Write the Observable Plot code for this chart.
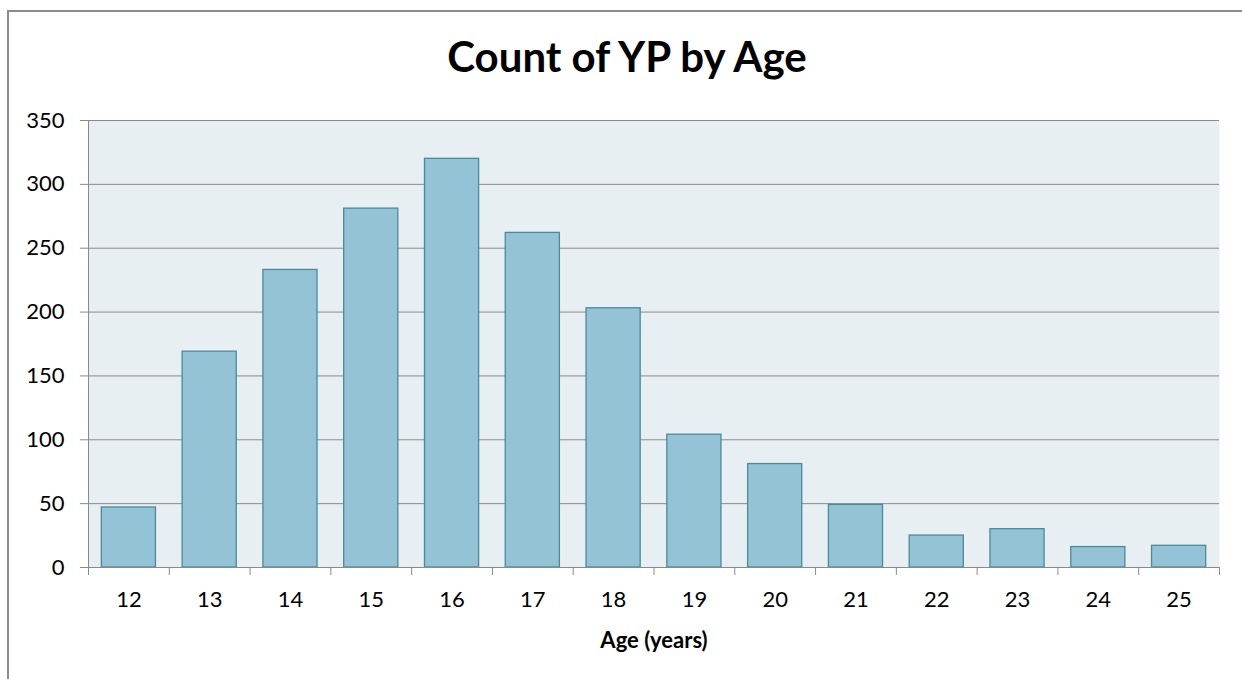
<!DOCTYPE html>
<html>
<head>
<meta charset="utf-8">
<script src="https://cdn.jsdelivr.net/npm/d3@7"></script>
<script src="https://cdn.jsdelivr.net/npm/@observablehq/plot@0.6"></script>
<style>
  html, body { margin: 0; padding: 0; background: #fff; }
  #wrap { position: relative; width: 1242px; height: 679px; overflow: hidden; font-family: Lato, "Open Sans", sans-serif; }
  #border { position: absolute; left: 7px; top: 10px; width: 1300px; height: 800px; border-left: 2px solid #8c8c8c; border-top: 2px solid #8c8c8c; }
  #title { position: relative; height: 100px; width: 1242px; box-sizing: border-box; padding-left: 12px; text-align: center; font-weight: bold; font-size: 42px; line-height: 42px; padding-top: 35px; color: #000; }
  #chart { position: relative; }
</style>
</head>
<body>
<div id="wrap">
  <div id="border"></div>
  <div id="title">Count of YP by Age</div>
  <div id="chart"></div>
</div>
<script>
const ages = [12, 13, 14, 15, 16, 17, 18, 19, 20, 21, 22, 23, 24, 25];
const counts = [47, 169, 233, 281, 320, 262, 203, 104, 81, 49, 25, 30, 16, 17];
const yTicks = [0, 50, 100, 150, 200, 250, 300, 350];
const xLabel = "Age (years)";

const data = ages.map((a, i) => ({age: a, count: counts[i]}));
const halfBar = 0.335;
const boundaries = ages.map(a => a - 0.5).concat([ages[ages.length - 1] + 0.5]);

const chart = Plot.plot({
  width: 1242,
  height: 579,
  marginLeft: 88,
  marginRight: 23,
  marginTop: 20,
  marginBottom: 112,
  style: { fontFamily: "Lato, 'Open Sans', sans-serif", fontSize: "22px", color: "#000", background: "transparent" },
  x: { type: "linear", domain: [ages[0] - 0.5, ages[ages.length - 1] + 0.5] },
  y: { domain: [0, 350] },
  marks: [
    Plot.frame({ fill: "#e8eff3", stroke: null }),
    Plot.gridY(yTicks, { stroke: "#8a8a8a", strokeOpacity: 1, strokeWidth: 1 }),
    Plot.rectY(data, {
      x1: d => d.age - halfBar,
      x2: d => d.age + halfBar,
      y: "count",
      fill: "#93c3d4",
      stroke: "#4a8a9c",
      strokeWidth: 1.3
    }),
    Plot.axisY({ ticks: yTicks, tickSize: 8, tickPadding: 16, stroke: "#8a8a8a", label: null, fill: "#000" }),
    Plot.ruleX([ages[0] - 0.5], { stroke: "#8a8a8a" }),
    Plot.ruleY([0], { stroke: "#8a8a8a" }),
    Plot.axisX({ ticks: boundaries, tickSize: 8, tickFormat: () => "", stroke: "#8a8a8a", label: null }),
    Plot.axisX({ ticks: ages, tickSize: 0, tickPadding: 24, tickFormat: d => String(d), label: null, fill: "#000" }),
    Plot.text([xLabel], { frameAnchor: "bottom", dy: 80, fontWeight: "bold", fontSize: 22, fill: "#000" })
  ]
});
document.getElementById("chart").appendChild(chart);
</script>
</body>
</html>
